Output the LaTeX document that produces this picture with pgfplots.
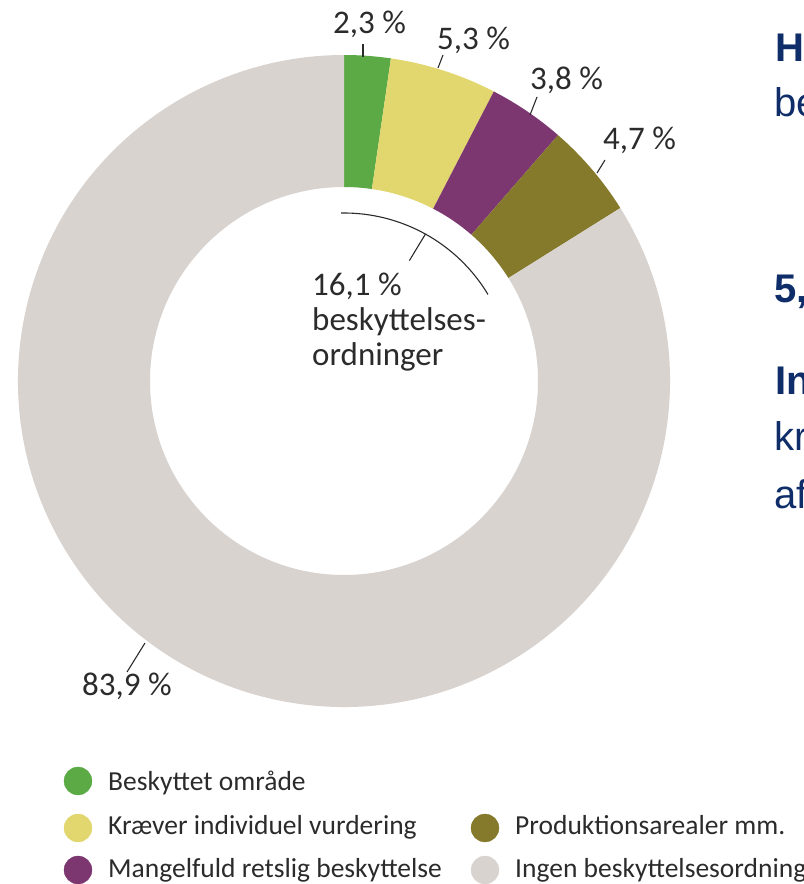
\documentclass[border=0pt]{standalone}
\usepackage{pgfplots}
\pgfplotsset{compat=1.18}
\usepackage{pgfplotstable}
\usepackage{fontspec}
\setmainfont{Carlito}
\newfontfamily\arialfont{Liberation Sans}
\definecolor{cGreen}{HTML}{5BAA46}
\definecolor{cYellow}{HTML}{E1D76E}
\definecolor{cPurple}{HTML}{7D3770}
\definecolor{cOlive}{HTML}{857A2C}
\definecolor{cGray}{HTML}{D9D3D0}
\definecolor{txt}{HTML}{2B2B2B}
\definecolor{navy}{HTML}{0F2D69}

\pgfplotstableread{
value col
2.3 cGreen
5.3 cYellow
3.8 cPurple
4.7 cOlive
83.9 cGray
}\slices

\begin{document}
\begin{tikzpicture}
\useasboundingbox (0,0) rectangle (804bp,884bp);
\begin{axis}[
  scale only axis, width=804bp, height=884bp,
  xmin=0, xmax=804, ymin=0, ymax=884, y dir=reverse,
  hide axis, clip=false,
]
% legend markers
\addplot[only marks, mark=*, mark size=14, cGreen] coordinates {(78,781)};
\addplot[only marks, mark=*, mark size=14, cYellow] coordinates {(78,828)};
\addplot[only marks, mark=*, mark size=14, cPurple] coordinates {(78,870)};
\addplot[only marks, mark=*, mark size=14, cOlive] coordinates {(485,828)};
\addplot[only marks, mark=*, mark size=14, cGray] coordinates {(485,870)};

\pgfplotsextra{
  \coordinate (c) at (axis cs:344,381);
  \gdef\cum{0}
  \foreach \i in {0,...,4}{
    \pgfplotstablegetelem{\i}{value}\of\slices
    \pgfmathsetmacro{\v}{\pgfplotsretval}
    \pgfplotstablegetelem{\i}{col}\of\slices
    \edef\cc{\pgfplotsretval}
    \pgfmathsetmacro{\aS}{90-3.6*\cum}
    \pgfmathsetmacro{\aE}{90-3.6*(\cum+\v)}
    \fill[fill=\cc] ([shift={(\aS:326bp)}]c) arc[start angle=\aS, end angle=\aE, radius=326bp]
       -- ([shift={(\aE:194bp)}]c) arc[start angle=\aE, end angle=\aS, radius=194bp] -- cycle;
    \pgfmathsetmacro{\newcum}{\cum+\v}
    \xdef\cum{\newcum}
  }
  % inner bracket arc for 16.1 %
  \draw[txt, line width=1.1bp] ([shift={(91:168bp)}]c) arc[start angle=91, end angle=31, radius=168bp];
  \draw[txt, line width=1.1bp] ([shift={(61:168bp)}]c) -- ([shift={(61.5:137bp)}]c);
  % leader lines
  \draw[txt, line width=1.1bp] (axis cs:363,44) -- (axis cs:363,57);
  \draw[txt, line width=1.1bp] (axis cs:443,55) -- (axis cs:438,68);
  \draw[txt, line width=1.1bp] (axis cs:537,97) -- (axis cs:530,115);
  \draw[txt, line width=1.1bp] (axis cs:605,160) -- (axis cs:597,173);
  \draw[txt, line width=1.1bp] (axis cs:145,643) -- (axis cs:127,672);
}
% percent labels
\begin{scope}[every node/.style={inner sep=0pt, anchor=base west, text=txt, font=\fontsize{33bp}{38bp}\selectfont}]
\node at (axis cs:333,34) {2,3 \%};
\node at (axis cs:437,50) {5,3 \%};
\node at (axis cs:530,90) {3,8 \%};
\node at (axis cs:603,150) {4,7 \%};
\node at (axis cs:82,695) {83,9 \%};
\node at (axis cs:312,295) {16,1 \%};
\node at (axis cs:312,330) {beskyttelses-};
\node at (axis cs:312,365) {ordninger};
\end{scope}
% legend text
\begin{scope}[every node/.style={inner sep=0pt, anchor=base west, text=txt, font=\fontsize{27.5bp}{32bp}\selectfont}]
\node at (axis cs:108,790) {Beskyttet område};
\node at (axis cs:108,834) {Kræver individuel vurdering};
\node at (axis cs:108,877) {Mangelfuld retslig beskyttelse};
\node at (axis cs:515,834) {Produktionsarealer mm.};
\node at (axis cs:515,877) {Ingen beskyttelsesordning};
\end{scope}
% clipped slide text on the right
\begin{scope}[every node/.style={inner sep=0pt, anchor=base west, text=navy, font=\arialfont\fontsize{40bp}{46bp}\selectfont}]
\node at (axis cs:775,62) {\bfseries H};
\node at (axis cs:774,117) {be};
\node at (axis cs:774,302) {\bfseries 5,};
\node at (axis cs:775,394) {\bfseries In};
\node at (axis cs:774,450) {kr};
\node at (axis cs:774,508) {af};
\end{scope}
\end{axis}
\end{tikzpicture}
\end{document}
